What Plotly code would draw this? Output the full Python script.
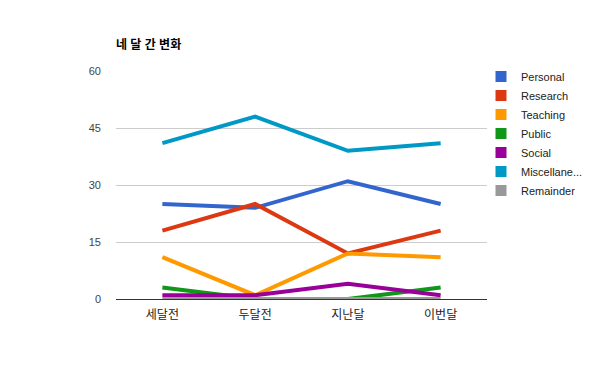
import plotly.graph_objects as go

categories = ["세달전", "두달전", "지난달", "이번달"]
series_names = ["Personal", "Research", "Teaching", "Public", "Social", "Miscellane...", "Remainder"]
personal = [25, 24, 31, 25]
research = [18, 25, 12, 18]
teaching = [11, 1, 12, 11]
public = [3, 0, 0, 3]
social = [1, 1, 4, 1]
misc = [41, 48, 39, 41]
remainder = [0, 0, 0, 0]
y_ticks = [0, 15, 30, 45, 60]
title_text = "네 달 간 변화"

colors = ["#3366cc", "#dc3912", "#ff9900", "#109618", "#990099", "#0099c6", "#999999"]
values = [personal, research, teaching, public, social, misc, remainder]

FONT = "Arial, 'Liberation Sans', 'Noto Sans CJK KR', sans-serif"

fig = go.Figure()
for name, vals, c in zip(series_names, values, colors):
    fig.add_trace(go.Scatter(x=categories, y=vals, mode="lines", name=name,
                             line=dict(color=c, width=4), showlegend=False,
                             hoverinfo="x+y+name"))
for name, c in zip(series_names, colors):
    fig.add_trace(go.Scatter(x=[None], y=[None], mode="markers", name=name,
                             marker=dict(color=c, symbol="square", size=11),
                             showlegend=True))

fig.update_layout(
    template="none",
    width=600, height=371,
    margin=dict(l=116, r=113, t=71, b=72, autoexpand=False),
    paper_bgcolor="white", plot_bgcolor="white",
    font=dict(family=FONT, size=11, color="#222222"),
    title=dict(text="<b>" + title_text + "</b>", x=116/600, xanchor="left",
               y=1-45/371, yanchor="middle", yref="container", xref="container",
               font=dict(size=12, color="#000000", family=FONT)),
    xaxis=dict(type="category", showgrid=False, showline=False, zeroline=False,
               ticks="", tickfont=dict(size=12, color="#222222"),
               range=[-0.5, 3.5], automargin=False),
    yaxis=dict(range=[0, 60], tickvals=y_ticks, ticktext=[str(t) for t in y_ticks],
               showgrid=True, gridcolor="#cccccc", gridwidth=1,
               zeroline=True, zerolinecolor="#333333", zerolinewidth=1,
               showline=False, ticks="", ticklen=0, automargin=False,
               tickfont=dict(size=11, color="#444444")),
    legend=dict(xref="container", yref="container", x=481/600, xanchor="left",
                y=1-62/371, yanchor="top",
                font=dict(size=11, color="#222222"), tracegroupgap=0,
                itemwidth=30, bgcolor="rgba(0,0,0,0)"),
    showlegend=True,
)
fig.update_yaxes(ticklabelstandoff=14)
fig.update_xaxes(ticklabelstandoff=7)

fig.write_html("out.html", config={"displayModeBar": False},
               post_script="document.body.style.margin='0';")
